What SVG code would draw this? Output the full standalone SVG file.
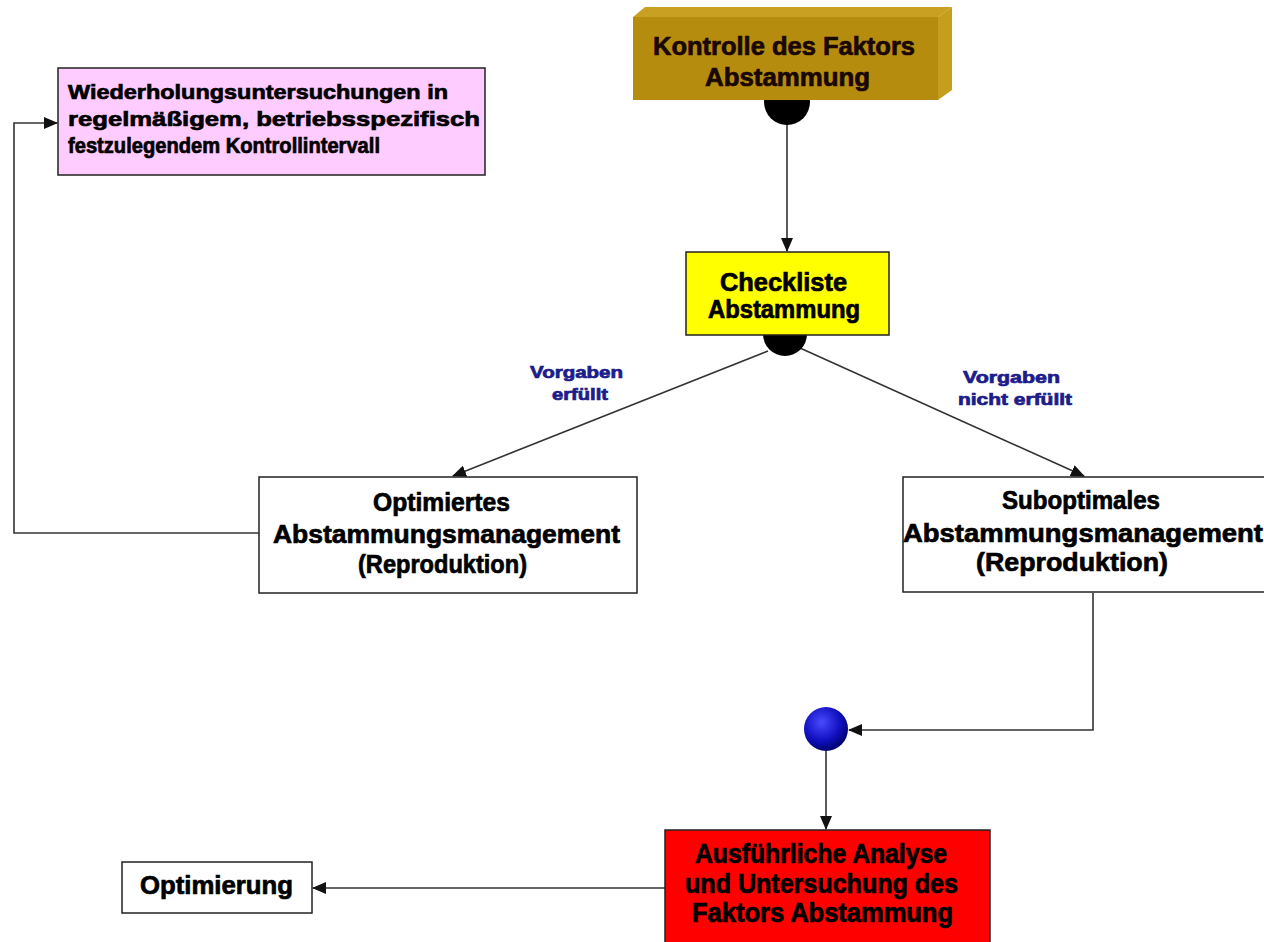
<svg xmlns="http://www.w3.org/2000/svg" width="1264" height="942" viewBox="0 0 1264 942">
<style>
.t{font-family:"Liberation Sans",Arial,sans-serif;font-weight:bold;stroke-width:0.7;}
.k{fill:#000;stroke:#000;}
.c{fill:none;stroke:#333;stroke-width:1.6;}
.box{stroke:#222;stroke-width:1.5;}
.lbl{fill:#1c1c8a;stroke:#1c1c8a;font-size:16px;}
</style>
<defs>
<marker id="arr" markerUnits="userSpaceOnUse" markerWidth="14" markerHeight="12" refX="13" refY="6" orient="auto">
<path d="M0,0 L14,6 L0,12 z" fill="#111"/>
</marker>
<radialGradient id="blue" cx="0.4" cy="0.35" r="0.7">
<stop offset="0" stop-color="#4a4aff"/>
<stop offset="0.6" stop-color="#1010c0"/>
<stop offset="1" stop-color="#000060"/>
</radialGradient>
</defs>
<rect width="1264" height="942" fill="#fff"/>
<g id="connectors">
<line class="c" x1="787" y1="124" x2="787" y2="251" marker-end="url(#arr)"/>
<line class="c" x1="768" y1="351" x2="453" y2="476" marker-end="url(#arr)"/>
<line class="c" x1="800" y1="348" x2="1084" y2="476" marker-end="url(#arr)"/>
<polyline class="c" points="259,533 14,533 14,123 57,123" marker-end="url(#arr)"/>
<polyline class="c" points="1093,593 1093,730 849,730" marker-end="url(#arr)"/>
<line class="c" x1="826" y1="751" x2="826" y2="829" marker-end="url(#arr)"/>
<line class="c" x1="665" y1="888" x2="313" y2="888" marker-end="url(#arr)"/>
</g>
<g id="labels">
<text class="t lbl" x="530" y="378" textLength="93" lengthAdjust="spacingAndGlyphs">Vorgaben</text>
<text class="t lbl" x="552" y="400" textLength="56" lengthAdjust="spacingAndGlyphs">erfüllt</text>
<text class="t lbl" x="963" y="383" textLength="97" lengthAdjust="spacingAndGlyphs">Vorgaben</text>
<text class="t lbl" x="958" y="405" textLength="114" lengthAdjust="spacingAndGlyphs">nicht erfüllt</text>
</g>
<g id="junction1"><circle cx="787" cy="102" r="23" fill="#000"/></g>
<g id="junction2"><circle cx="785" cy="334" r="22" fill="#000"/></g>
<g id="junction3"><circle cx="826" cy="729" r="22" fill="url(#blue)"/></g>
<g id="kontrolle">
<polygon points="633,17 645,7 952,7 938,17" fill="#c9a021"/>
<polygon points="938,17 952,7 952,90 938,100" fill="#c69e1e"/>
<rect x="633" y="17" width="305" height="83" fill="#b68c0e"/>
<text class="t" x="653" y="55" font-size="25" fill="#1a0800" stroke="#1a0800" textLength="262" lengthAdjust="spacingAndGlyphs">Kontrolle des Faktors</text>
<text class="t" x="705" y="86" font-size="25" fill="#1a0800" stroke="#1a0800" textLength="165" lengthAdjust="spacingAndGlyphs">Abstammung</text>
</g>
<g id="wiederholung">
<rect class="box" x="58" y="68" width="427" height="107" fill="#ffccff"/>
<text class="t k" x="68" y="99" font-size="21" textLength="380" lengthAdjust="spacingAndGlyphs">Wiederholungsuntersuchungen in</text>
<text class="t k" x="68" y="126" font-size="21" textLength="412" lengthAdjust="spacingAndGlyphs">regelmäßigem, betriebsspezifisch</text>
<text class="t k" x="68" y="153" font-size="22" textLength="312" lengthAdjust="spacingAndGlyphs">festzulegendem Kontrollintervall</text>
</g>
<g id="checkliste">
<rect class="box" x="686" y="252" width="203" height="83" fill="#ffff00"/>
<text class="t k" x="720" y="291" font-size="25" textLength="127" lengthAdjust="spacingAndGlyphs">Checkliste</text>
<text class="t k" x="708" y="318" font-size="25" textLength="152" lengthAdjust="spacingAndGlyphs">Abstammung</text>
</g>
<g id="optimiertes">
<rect class="box" x="259" y="477" width="378" height="116" fill="#fff"/>
<text class="t k" x="373" y="511" font-size="26" textLength="137" lengthAdjust="spacingAndGlyphs">Optimiertes</text>
<text class="t k" x="273" y="543" font-size="26" textLength="347" lengthAdjust="spacingAndGlyphs">Abstammungsmanagement</text>
<text class="t k" x="358" y="573" font-size="26" textLength="169" lengthAdjust="spacingAndGlyphs">(Reproduktion)</text>
</g>
<g id="suboptimales">
<rect class="box" x="903" y="477" width="375" height="115" fill="#fff"/>
<text class="t k" x="1002" y="509" font-size="26" textLength="158" lengthAdjust="spacingAndGlyphs">Suboptimales</text>
<text class="t k" x="903" y="542" font-size="26" textLength="360" lengthAdjust="spacingAndGlyphs">Abstammungsmanagement</text>
<text class="t k" x="976" y="571" font-size="26" textLength="192" lengthAdjust="spacingAndGlyphs">(Reproduktion)</text>
</g>
<g id="analyse">
<rect class="box" x="665" y="830" width="325" height="125" fill="#ff0000"/>
<text class="t k" x="695" y="863" font-size="27" textLength="252" lengthAdjust="spacingAndGlyphs">Ausführliche Analyse</text>
<text class="t k" x="685" y="893" font-size="27" textLength="273" lengthAdjust="spacingAndGlyphs">und Untersuchung des</text>
<text class="t k" x="692" y="922" font-size="27" textLength="261" lengthAdjust="spacingAndGlyphs">Faktors Abstammung</text>
</g>
<g id="optimierung">
<rect class="box" x="122" y="862" width="190" height="51" fill="#fff"/>
<text class="t k" x="140" y="894" font-size="26" textLength="153" lengthAdjust="spacingAndGlyphs">Optimierung</text>
</g>
</svg>
